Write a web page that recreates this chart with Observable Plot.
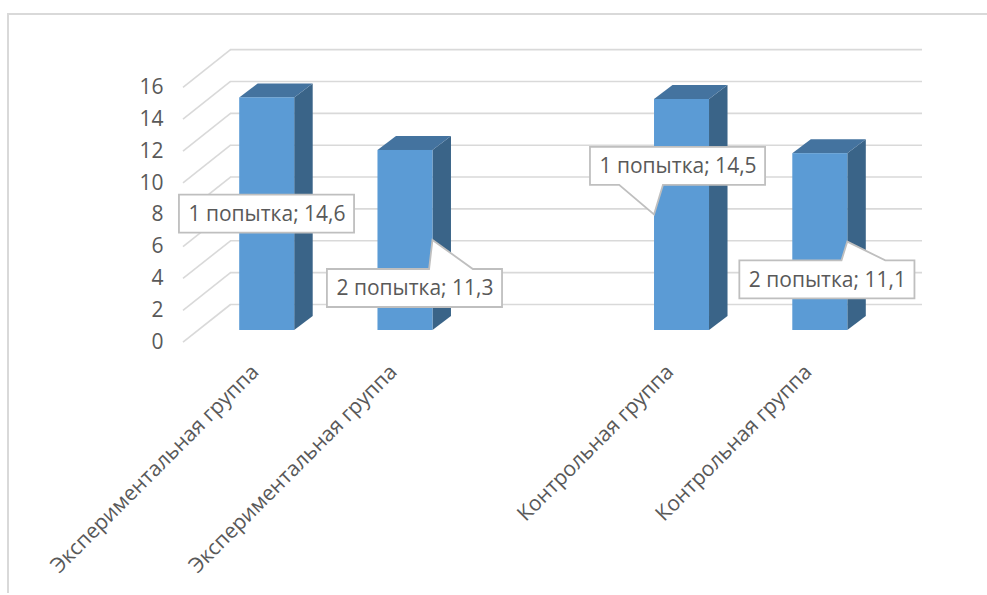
<!DOCTYPE html>
<html><head><meta charset="utf-8">
<script src="https://cdn.jsdelivr.net/npm/d3@7"></script>
<script src="https://cdn.jsdelivr.net/npm/@observablehq/plot@0.6"></script>
<style>
body{margin:0;background:#fff;}
#wrap{position:relative;width:987px;height:595px;overflow:hidden;}
#border{position:absolute;left:7px;top:13px;width:990px;height:578px;border-top:2px solid #d9d9d9;border-left:2px solid #d9d9d9;}
#chart{position:absolute;left:0;top:0;}
</style></head><body>
<div id="wrap"><div id="border"></div><div id="chart"></div></div>
<script>
// ---- data ----
const categories = ["Экспериментальная группа", "Экспериментальная группа", "", "Контрольная группа", "Контрольная группа"];
const seriesNames = ["1 попытка", "2 попытка", null, "1 попытка", "2 попытка"];
const values = [14.6, 11.3, null, 14.5, 11.1];
const yTicks = [0, 2, 4, 6, 8, 10, 12, 14, 16];
const xTicks = [0, 1, 3, 4];

// ---- layout (pixels) ----
const W = 987, H = 595;
const X_RANGE = [266.7, 819.8];
const Y_RANGE = [330, 75.1];
const pxX = (X_RANGE[1] - X_RANGE[0]) / 4;
const pxY = (Y_RANGE[0] - Y_RANGE[1]) / 16;
const HALF = 27.5 / pxX, DEPTH_X = 18.5 / pxX, DEPTH_Y = 14 / pxY;
const WALL_BACK = (230 - X_RANGE[0]) / pxX, WALL_FRONT = (182.5 - X_RANGE[0]) / pxX;
const FRONT_DY = 11.7, BACK_DY = 26;
// callout placement: which bar edge the pointer touches, and box offset from it
const calloutLayout = [
  {side: -1, dx: 27.3, dy: 0},
  {side: 1, dx: -18, dy: 48},
  null,
  {side: -1, dx: 23.5, dy: -48.6},
  {side: 1, dx: -20.4, dy: 37.8}
];

const bars = values.map((v, i) => ({i, v, s: seriesNames[i]})).filter(d => d.v != null);
const sideData = bars.flatMap(b => [
  {id: b.i, x: b.i + HALF, y1: 0, y2: b.v},
  {id: b.i, x: b.i + HALF + DEPTH_X, y1: DEPTH_Y, y2: b.v + DEPTH_Y}
]);
const topData = bars.flatMap(b => [
  {id: b.i, y: b.v, x1: b.i - HALF, x2: b.i + HALF},
  {id: b.i, y: b.v + DEPTH_Y, x1: b.i - HALF + DEPTH_X, x2: b.i + HALF + DEPTH_X}
]);
const fmt = v => String(v).replace(".", ",");

const grid = "#d9d9d9";
const chart = Plot.plot({
  width: W, height: H,
  marginLeft: 230, marginRight: 65, marginTop: 20, marginBottom: 227,
  x: {type: "linear", domain: [0, 4], range: X_RANGE},
  y: {domain: [0, 16], range: Y_RANGE},
  style: {fontFamily: "'Open Sans', sans-serif", fontSize: "21px", color: "#595959", background: "transparent", overflow: "visible"},
  marks: [
    Plot.ruleY(yTicks, {y: d => d, dy: -BACK_DY, stroke: grid, strokeWidth: 1.6}),
    Plot.link(yTicks, {x1: WALL_FRONT, x2: WALL_BACK, y1: d => d - FRONT_DY / pxY, y2: d => d + BACK_DY / pxY, stroke: grid, strokeWidth: 1.6}),
    Plot.axisY(yTicks, {anchor: "left", tickSize: 0, tickPadding: 230 - 163, dy: FRONT_DY, fontSize: 21, fill: "#595959"}),
    Plot.axisX(xTicks, {tickFormat: i => categories[i], tickRotate: -45, tickSize: 0, tickPadding: 0, dx: -12, textAnchor: "end", lineAnchor: "middle", fontSize: 21, fill: "#595959"}),
    Plot.areaY(sideData, {x: "x", y1: "y1", y2: "y2", z: "id", fill: "#3A6488", curve: "linear"}),
    Plot.areaX(topData, {y: "y", x1: "x1", x2: "x2", z: "id", fill: "#44739F", curve: "linear"}),
    Plot.rect(bars, {x1: d => d.i - HALF, x2: d => d.i + HALF, y1: 0, y2: d => d.v, fill: "#5B9BD5"}),
    ...bars.map(b => {
      const L = calloutLayout[b.i];
      return Plot.text([b], {
        x: d => d.i + L.side * HALF, y: d => d.v / 2,
        dx: L.dx, dy: L.dy, text: d => `${d.s}; ${fmt(d.v)}`,
        textAnchor: "middle", lineAnchor: "middle", fontSize: 21, fill: "#595959",
        className: "callout"
      });
    })
  ]
});
document.getElementById("chart").append(chart);

// draw callout boxes with pointer behind each label
const sx = chart.scale("x"), sy = chart.scale("y");
const groups = chart.querySelectorAll("g.callout");
bars.forEach((b, k) => {
  const g = groups[k];
  if (!g) return;
  const L = calloutLayout[b.i];
  const tx = sx.apply(b.i + L.side * HALF), ty = sy.apply(b.v / 2);
  const cx = tx + L.dx, cy = ty + L.dy;
  const r = g.querySelector("text").getBoundingClientRect();
  const w = r.width + 18, h = 38;
  const x0 = cx - w / 2, x1 = cx + w / 2, y0 = cy - h / 2, y1 = cy + h / 2;
  let dpath;
  const inside = tx >= x0 && tx <= x1 && ty >= y0 && ty <= y1;
  const a = tx > cx ? x0 + w * 7 / 12 : x0 + w * 2 / 12;
  const bb = tx > cx ? x0 + w * 10 / 12 : x0 + w * 5 / 12;
  if (inside) {
    dpath = `M${x0},${y0}H${x1}V${y1}H${x0}Z`;
  } else if (ty < y0) {
    dpath = `M${x0},${y0}H${a}L${tx},${ty}L${bb},${y0}H${x1}V${y1}H${x0}Z`;
  } else {
    dpath = `M${x0},${y0}H${x1}V${y1}H${bb}L${tx},${ty}L${a},${y1}H${x0}Z`;
  }
  const p = document.createElementNS("http://www.w3.org/2000/svg", "path");
  p.setAttribute("d", dpath);
  p.setAttribute("fill", "#ffffff");
  p.setAttribute("stroke", "#bfbfbf");
  p.setAttribute("stroke-width", "1.8");
  g.parentNode.insertBefore(p, g);
});
</script>
</body></html>
